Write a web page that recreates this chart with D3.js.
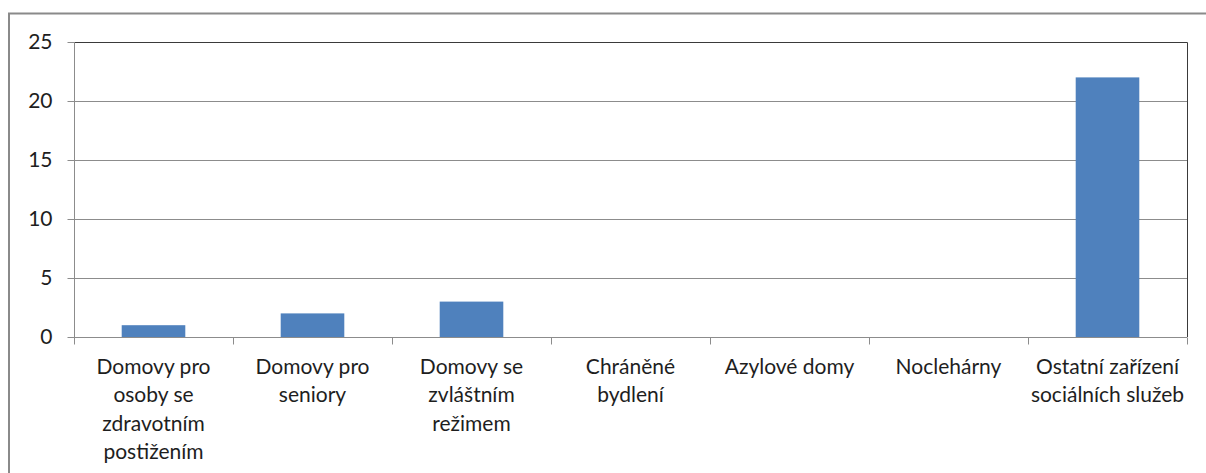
<!DOCTYPE html>
<html>
<head>
<meta charset="utf-8">
<script src="https://cdn.jsdelivr.net/npm/d3@7"></script>
<style>
  body { margin: 0; background: #fff; }
  svg { display: block; }
  text { font-family: Lato, "Open Sans", sans-serif; fill: #1e1e1e; }
</style>
</head>
<body>
<svg id="svg" width="1206" height="473"></svg>
<script>
// categories (line breaks as in the picture)
var categories = [
  "Domovy pro\nosoby se\nzdravotním\npostižením",
  "Domovy pro\nseniory",
  "Domovy se\nzvláštním\nrežimem",
  "Chráněné\nbydlení",
  "Azylové domy",
  "Noclehárny",
  "Ostatní zařízení\nsociálních služeb"
];
var values = [1, 2, 3, 0, 0, 0, 22];
var yTicks = [0, 5, 10, 15, 20, 25];

var svg = d3.select("#svg");
var padding = { top: 42, right: 19, bottom: 136, left: 74 };
var ChartArea = {
  width: 1206 - padding.left - padding.right,
  height: 473 - padding.top - padding.bottom
};

// outer chart frame (cut off at right and bottom)
svg.append("path")
  .attr("d", "M9,480 V13.5 H1215")
  .attr("fill", "none")
  .attr("stroke", "#8a8a8a")
  .attr("stroke-width", 2);

var xScale = d3.scaleBand()
  .domain(categories)
  .range([0, ChartArea.width])
  .paddingInner(0.6)
  .paddingOuter(0.3);

var yScale = d3.scaleLinear()
  .domain([0, 25])
  .range([ChartArea.height, 0]);

var g = svg.append("g")
  .attr("transform", "translate(" + padding.left + "," + padding.top + ")");

// gridlines
g.append("g")
  .selectAll("line")
  .data(yTicks.filter(d => d > 0 && d < 25))
  .enter()
  .append("line")
  .attr("x1", 0)
  .attr("x2", ChartArea.width)
  .attr("y1", d => Math.round(yScale(d)) + 0.5)
  .attr("y2", d => Math.round(yScale(d)) + 0.5)
  .attr("stroke", "#8c8c8c");

// plot area border top + right
g.append("path")
  .attr("d", "M0," + 0.5 + " H" + (ChartArea.width + 0.5) + " V" + ChartArea.height)
  .attr("fill", "none")
  .attr("stroke", "#3a3a3a");

// bars
g.selectAll("rect")
  .data(values)
  .enter()
  .append("rect")
  .attr("x", (d, i) => xScale(categories[i]))
  .attr("y", d => yScale(d))
  .attr("width", xScale.bandwidth())
  .attr("height", d => ChartArea.height - yScale(d))
  .attr("fill", "#4f81bd");

// y axis
var yAxis = g.append("g")
  .attr("transform", "translate(0.5,0)")
  .call(d3.axisLeft(yScale).tickValues(yTicks).tickSize(7).tickPadding(15));
yAxis.select(".domain").attr("stroke", "#8c8c8c").attr("d", "M0,0 V" + ChartArea.height);
yAxis.selectAll(".tick line").attr("stroke", "#8c8c8c");
yAxis.selectAll(".tick text")
  .style("font-family", "Lato, 'Open Sans', sans-serif")
  .style("font-size", "21px")
  .attr("fill", "#1e1e1e");

// x axis
var boundaries = d3.range(categories.length + 1).map(i => i * ChartArea.width / categories.length);
var xAxis = g.append("g")
  .attr("transform", "translate(0," + (Math.round(ChartArea.height) + 0.5) + ")");
xAxis.append("line")
  .attr("x1", 0).attr("x2", ChartArea.width)
  .attr("stroke", "#8c8c8c");
xAxis.selectAll(".tk")
  .data(boundaries)
  .enter()
  .append("line")
  .attr("class", "tk")
  .attr("x1", d => Math.round(d) + 0.5)
  .attr("x2", d => Math.round(d) + 0.5)
  .attr("y1", 0)
  .attr("y2", 7)
  .attr("stroke", "#8c8c8c");

var lbl = xAxis.selectAll(".lbl")
  .data(categories)
  .enter()
  .append("text")
  .attr("class", "lbl")
  .attr("text-anchor", "middle")
  .style("font-size", "21px")
  .attr("transform", d => "translate(" + (xScale(d) + xScale.bandwidth() / 2) + ",36)");
lbl.each(function (d) {
  var t = d3.select(this);
  d.split("\n").forEach(function (line, k) {
    t.append("tspan").attr("x", 0).attr("y", k * 28.5).text(line);
  });
});
</script>
</body>
</html>
